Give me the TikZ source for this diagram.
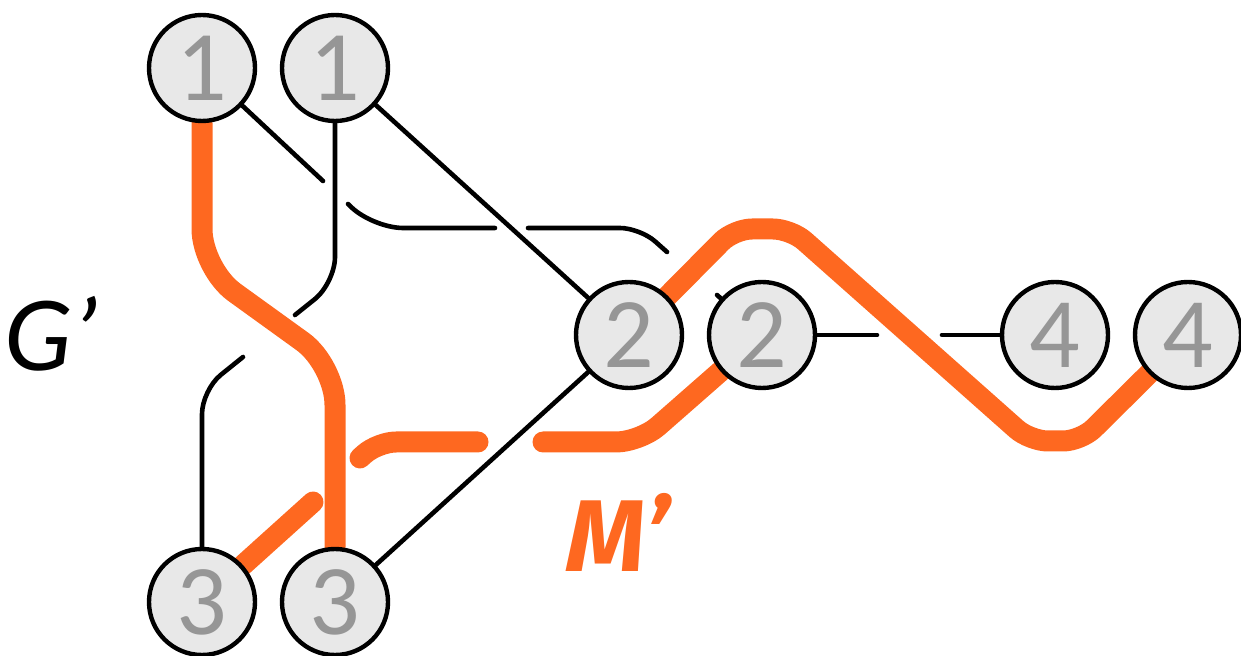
\documentclass[tikz,border=0pt]{standalone}
\usepackage{fontspec}
\setmainfont{Carlito}
\newfontfamily\mfont{Fira Sans}
\usetikzlibrary{backgrounds}
\definecolor{morange}{RGB}{254,104,32}
\definecolor{nodefill}{RGB}{232,232,232}
\definecolor{digitgray}{RGB}{150,150,150}
\begin{document}
\begin{tikzpicture}[x=0.5pt,y=-0.5pt,
  vtx/.style={circle, draw=black, line width=2.2pt, fill=nodefill, minimum size=53pt, inner sep=0pt, text=digitgray, font=\fontsize{50}{50}\selectfont},
  blk/.style={draw=black, line width=2.3pt, line cap=round, line join=round},
  org/.style={draw=morange, line width=10.5pt, line cap=round, line join=round},
  lbl/.style={anchor=base west, inner sep=0pt, font=\fontsize{53.5}{54}\selectfont}]
\useasboundingbox (0,0) rectangle (1241,656);
% vertices
\node[vtx] (n1a) at (202,68) {1};
\node[vtx] (n1b) at (335,68) {1};
\node[vtx] (n2a) at (629,335) {2};
\node[vtx] (n2b) at (762,335) {2};
\node[vtx] (n4a) at (1055,335) {4};
\node[vtx] (n4b) at (1188,335) {4};
\node[vtx] (n3a) at (202,602) {3};
\node[vtx] (n3b) at (335,602) {3};
% labels
\node[lbl] (gl) at (4,371) {\itshape G’};
\node[lbl, text=morange, font=\mfont\fontsize{51}{52}\selectfont\bfseries\itshape] (ml) at (566,572) {M’};
% gap end points
\coordinate (a1) at (323,181);
\coordinate (a2) at (348,204);
\coordinate (a3) at (495,228);
\coordinate (a4) at (528,228);
\coordinate (a5) at (667,252);
\coordinate (a6) at (717,295);
\coordinate (c1) at (295,315);
\coordinate (c2) at (243,357);
\coordinate (e1) at (877,335);
\coordinate (e2) at (942,335);
\coordinate (g1) at (313,502);
\coordinate (g2) at (360,458);
\coordinate (g3) at (478,442);
\coordinate (g4) at (543,442);
\begin{pgfonlayer}{background}
% black edges
\draw[blk] (n1a) -- (a1);
\draw[blk, rounded corners=15pt] (a2) -- (373,228) -- (a3);
\draw[blk, rounded corners=10pt] (a4) -- (640,228) -- (a5);
\draw[blk] (a6) -- (n2b);
\draw[blk] (n1b) -- (n2a);
\draw[blk, rounded corners=13pt] (n1b) -- (335,283) -- (c1);
\draw[blk, rounded corners=12pt] (c2) -- (202,390) -- (n3a);
\draw[blk] (n2a) -- (n3b);
\draw[blk] (n2b) -- (e1);
\draw[blk] (e2) -- (n4a);
% orange edges
\draw[org, rounded corners=20pt] (n1a) -- (202,269) -- (335,365) -- (n3b);
\draw[org] (n3a) -- (g1);
\draw[org, rounded corners=9pt] (g2) -- (378,442) -- (g3);
\draw[org, rounded corners=12pt] (g4) -- (640,442) -- (n2b);
\draw[org, rounded corners=9pt] (n2a) -- (734,229) -- (791,229) -- (1030,441) -- (1081,441) -- (n4b);
\end{pgfonlayer}
\end{tikzpicture}
\end{document}
